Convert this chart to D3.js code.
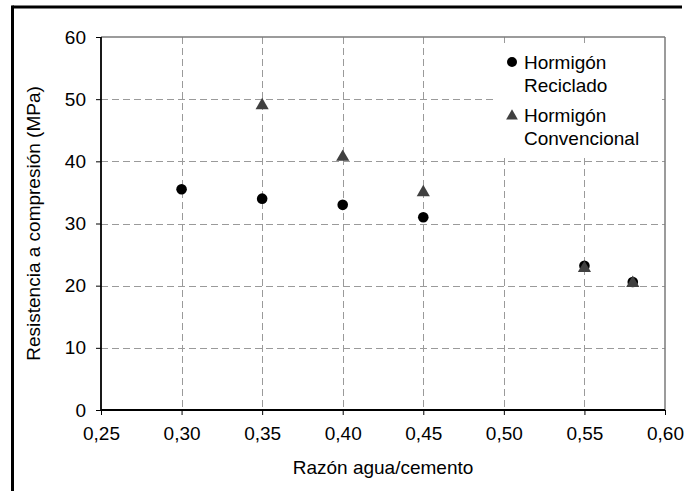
<!DOCTYPE html>
<html>
<head>
<meta charset="utf-8">
<script src="https://cdn.jsdelivr.net/npm/d3@7"></script>
<style>
  html, body { margin: 0; padding: 0; background: #fff; }
  svg { display: block; }
  text { font-family: "Liberation Sans", Arial, sans-serif; fill: #000; }
</style>
</head>
<body>
<svg id="chart" width="686" height="491"></svg>
<script>
// ---- data ----
const recicladoX = [0.30, 0.35, 0.40, 0.45, 0.55, 0.58];
const recicladoY = [35.5, 34.0, 33.0, 31.0, 23.2, 20.6];
const convencionalX = [0.35, 0.40, 0.45, 0.55, 0.58];
const convencionalY = [49.0, 40.7, 35.0, 22.8, 20.4];
const xTicks = [0.25, 0.30, 0.35, 0.40, 0.45, 0.50, 0.55, 0.60];
const yTicks = [0, 10, 20, 30, 40, 50, 60];
const seriesNames = [["Hormigón", "Reciclado"], ["Hormigón", "Convencional"]];
const xTitle = "Razón agua/cemento";
const yTitle = "Resistencia a compresión (MPa)";

const svg = d3.select("#chart");
const L = 101, R = 665, T = 37, B = 410;
const x = d3.scaleLinear().domain([0.25, 0.60]).range([L, R]);
const y = d3.scaleLinear().domain([0, 60]).range([B, T]);
const fmt = d => d3.format(".2f")(d).replace(".", ",");

// outer frame (top + left visible)
svg.append("line").attr("x1", 12.5).attr("x2", 682).attr("y1", 7).attr("y2", 7)
  .attr("stroke", "#000").attr("stroke-width", 3);
svg.append("line").attr("x1", 12.5).attr("x2", 12.5).attr("y1", 5.5).attr("y2", 491)
  .attr("stroke", "#000").attr("stroke-width", 3);

// gridlines
const grid = svg.append("g");
grid.selectAll(".hg").data(yTicks.filter(d => d > 0 && d < 60)).enter().append("line")
  .attr("x1", L).attr("x2", R).attr("y1", d => Math.round(y(d)) + 0.5).attr("y2", d => Math.round(y(d)) + 0.5)
  .attr("stroke", "#9a9a9a").attr("stroke-width", 1).attr("stroke-dasharray", "7,4");
grid.selectAll(".vg").data(xTicks.filter(d => d > 0.26 && d < 0.59)).enter().append("line")
  .attr("x1", d => Math.round(x(d)) + 0.5).attr("x2", d => Math.round(x(d)) + 0.5).attr("y1", T).attr("y2", B)
  .attr("stroke", "#9a9a9a").attr("stroke-width", 1).attr("stroke-dasharray", "7,4");

// plot border top/right
svg.append("line").attr("x1", L).attr("x2", R).attr("y1", T).attr("y2", T).attr("stroke", "#7a7a7a").attr("stroke-width", 1.5);
svg.append("line").attr("x1", R).attr("x2", R).attr("y1", T).attr("y2", B).attr("stroke", "#7a7a7a").attr("stroke-width", 1.5);

// axes
const xAxis = d3.axisBottom(x).tickValues(xTicks).tickFormat(fmt).tickSize(5).tickPadding(12);
const yAxis = d3.axisLeft(y).tickValues(yTicks).tickFormat(d3.format("d")).tickSize(5).tickPadding(10);
const gx = svg.append("g").attr("transform", `translate(0,${B})`).call(xAxis);
const gy = svg.append("g").attr("transform", `translate(${L},0)`).call(yAxis);
[gx, gy].forEach(g => {
  g.select(".domain").attr("stroke", "#000").attr("stroke-width", 1.8);
  g.selectAll(".tick line").attr("stroke", "#000").attr("stroke-width", 1);
  g.selectAll(".tick text").style("font-size", "19px").style("font-family", "Liberation Sans, Arial, sans-serif").attr("fill", "#000");
});
gx.select(".domain").attr("d", `M${L},0H${R}`);
gy.select(".domain").attr("d", `M0,${B}V${T}`);

// axis titles
svg.append("text").attr("x", (L + R) / 2).attr("y", 474).attr("text-anchor", "middle")
  .style("font-size", "19px").text(xTitle);
svg.append("text").attr("transform", `translate(40,${(T + B) / 2}) rotate(-90)`).attr("text-anchor", "middle")
  .style("font-size", "19px").text(yTitle);

// legend background
const lg = svg.append("g");
lg.append("rect").attr("x", 495).attr("y", 43).attr("width", 163).attr("height", 112).attr("fill", "#fff");

// points
const sym = d3.symbol().type(d3.symbolTriangle).size(75);
svg.append("g").selectAll("circle").data(recicladoX.map((d, i) => [d, recicladoY[i]])).enter()
  .append("circle").attr("cx", d => x(d[0])).attr("cy", d => y(d[1])).attr("r", 5.3).attr("fill", "#000");
svg.append("g").selectAll("path").data(convencionalX.map((d, i) => [d, convencionalY[i]])).enter()
  .append("path").attr("d", sym).attr("transform", d => `translate(${x(d[0])},${y(d[1])})`).attr("fill", "#404040");

// legend
const lx = 512, tx = 524;
lg.append("circle").attr("cx", lx).attr("cy", 62).attr("r", 5).attr("fill", "#000");
lg.append("path").attr("d", d3.symbol().type(d3.symbolTriangle).size(60)).attr("transform", `translate(${lx},116)`).attr("fill", "#404040");
const base = [69, 122];
seriesNames.forEach((lines, i) => {
  lines.forEach((t, j) => {
    lg.append("text").attr("x", tx).attr("y", base[i] + j * 22.5).style("font-size", "19px").text(t);
  });
});
</script>
</body>
</html>
